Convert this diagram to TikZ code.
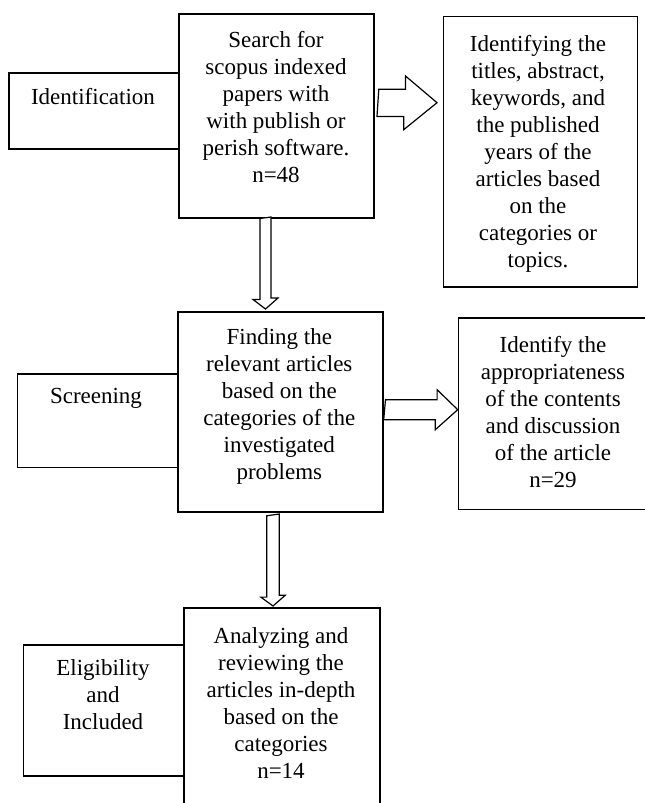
\documentclass[tikz,border=0pt]{standalone}
\usepackage{fontspec}
\setmainfont{Liberation Serif}
\usetikzlibrary{calc}
\begin{document}
\begin{tikzpicture}[x=1pt,y=-1pt,
  mainbox/.style={draw, line width=1.8pt, rectangle, inner sep=0pt, anchor=north west},
  sidebox/.style={draw, line width=1.3pt, rectangle, inner sep=0pt, anchor=north west},
  txt/.style={align=center, inner sep=0pt, font=\fontsize{23}{27}\selectfont},
  harrow/.style={draw, line width=1.2pt, fill=white, line join=miter}]
\useasboundingbox (0,0) rectangle (645,803);
\clip (0,0) rectangle (645,803);
% side boxes
\node[sidebox, minimum width=169.4pt, minimum height=76pt] (id) at (8.3,72.3) {};
\node[sidebox, minimum width=160pt, minimum height=93.4pt] (sc) at (16.7,373.3) {};
\node[sidebox, minimum width=160.6pt, minimum height=131pt] (el) at (22.7,644.3) {};
% main boxes
\node[mainbox, minimum width=195.3pt, minimum height=203.4pt] (b1) at (177.7,13.3) {};
\node[mainbox, minimum width=205.3pt, minimum height=200.6pt] (b2) at (176.7,310.7) {};
\node[mainbox, minimum width=195.4pt, minimum height=210pt] (b3) at (183.3,607) {};
% right boxes
\node[sidebox, minimum width=194.3pt, minimum height=270.3pt] (r1) at (442.7,16) {};
\node[sidebox, minimum width=200pt, minimum height=191.4pt] (r2) at (457.7,317.3) {};
% texts
\node[txt] (tid) at (93,97) {Identification};
\node[txt] (tsc) at (96,398.5) {Screening};
\node[txt] (tel) at (103,695) {Eligibility\\and\\Included};
\node[txt] (tb1) at (276,107) {Search for\\scopus indexed\\papers with\\with publish or\\perish software.\\n=48};
\node[txt] (tb2) at (279.3,406.5) {Finding the\\relevant articles\\based on the\\categories of the\\investigated\\problems};
\node[txt] (tb3) at (281,703) {Analyzing and\\reviewing the\\articles in-depth\\based on the\\categories\\n=14};
\node[txt] (tr1) at (538,154) {Identifying the\\titles, abstract,\\keywords, and\\the published\\years of the\\articles based\\on the\\categories or\\topics.};
\node[txt] (tr2) at (553,412) {Identify the\\appropriateness\\of the contents\\and discussion\\of the article\\n=29};
% hollow block arrows (connectors between the boxes)
\coordinate (a1s) at ($(b1.east |- 0,102.7)+(4,0)$);
\coordinate (a1t) at ($(r1.west |- a1s)+(-5.7,0)$);
\draw[harrow] (a1s) ++(0,-13.4) -- ++(26.7,0) -- ++(0,-13.3) -- (a1t) -- ++(-33.3,27) -- ++(0,-13.3) -- ++(-26.7,0) -- cycle;
\coordinate (a2s) at ($(b2.east |- 0,409.7)+(1.7,0)$);
\coordinate (a2t) at (r2.west |- a2s);
\draw[harrow] (a2s) ++(0,-10) -- ++(51.6,0) -- ++(0,-10) -- (a2t) -- ++(-22.4,20) -- ++(0,-10) -- ++(-51.6,0) -- cycle;
\coordinate (d1s) at (b1.south -| 265.5,0);
\coordinate (d1t) at ($(b2.north -| d1s)+(0,-1.7)$);
\draw[harrow] (d1s) ++(-5.5,0) -- ++(0,81) -- ++(-7,0) -- (d1t) -- ++(12.5,-11) -- ++(-7,0) -- ++(0,-81) -- cycle;
\coordinate (d2s) at ($(b2.south -| 273,0)+(0,2.7)$);
\coordinate (d2t) at ($(b3.north -| d2s)+(0,-1)$);
\draw[harrow] (d2s) ++(-6.3,0) -- ++(0,81.3) -- ++(-5.9,0) -- (d2t) -- ++(12.2,-10.7) -- ++(-5.9,0) -- ++(0,-81.3) -- cycle;
\end{tikzpicture}
\end{document}
